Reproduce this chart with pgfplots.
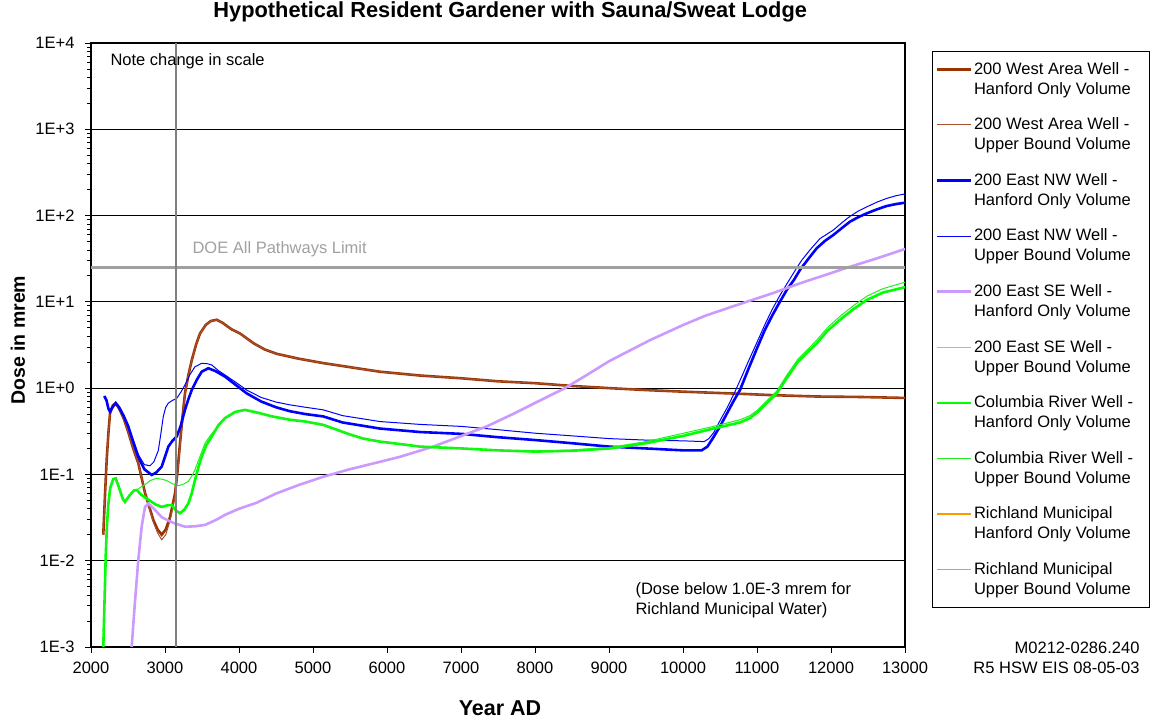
\documentclass[border=0pt]{standalone}
\usepackage{pgfplots}
\pgfplotsset{compat=1.18}
\usepackage{fontspec}
\setmainfont{Liberation Sans}
\definecolor{cbrown}{HTML}{993300}
\definecolor{cbrownt}{HTML}{A85030}
\definecolor{cblue}{HTML}{0000FF}
\definecolor{cpurple}{HTML}{CC99FF}
\definecolor{cgreen}{HTML}{00FF00}
\definecolor{cgreent}{HTML}{22EE22}
\definecolor{corange}{HTML}{FF9900}
\definecolor{cdoe}{HTML}{A0A0A0}
\definecolor{cvert}{HTML}{808080}
\newcommand{\fs}{\fontsize{16.5}{20}\selectfont}
\newcommand{\legtxt}[2]{\raisebox{7.6pt}{\parbox[b]{170pt}{\rule{0pt}{19pt}#1\\#2\rule[-7.6pt]{0pt}{7.6pt}}}}

\pgfplotstableread{
x y
2166 0.02
2190 0.06
2212 0.147
2235 0.30
2257 0.51
2295 0.63
2334 0.67
2380 0.58
2440 0.45
2504 0.31
2570 0.20
2639 0.135
2730 0.061
2842 0.0297
2900 0.023
2955 0.020
3010 0.023
3068 0.032
3135 0.06
3170 0.11
3203 0.23
3235 0.45
3270 0.87
3315 1.4
3361 2.1
3420 3.2
3473 4.3
3550 5.4
3620 6.0
3699 6.2
3780 5.7
3900 4.8
4014 4.3
4200 3.3
4350 2.8
4509 2.5
4800 2.2
5139 1.95
5500 1.75
5905 1.55
6446 1.4
7009 1.30
7500 1.2
8009 1.14
8500 1.06
9004 1.00
9500 0.95
10004 0.91
10770 0.86
11200 0.83
11800 0.80
12400 0.79
13000 0.77
}\wHO

\pgfplotstableread{
x y
2166 0.02
2190 0.06
2212 0.147
2235 0.30
2257 0.51
2295 0.63
2334 0.67
2380 0.58
2440 0.45
2504 0.31
2570 0.20
2639 0.135
2730 0.061
2842 0.028
2900 0.021
2955 0.0175
3010 0.020
3068 0.029
3135 0.055
3170 0.10
3203 0.21
3235 0.43
3270 0.85
3315 1.4
3361 2.1
3420 3.2
3473 4.3
3550 5.4
3620 6.0
3699 6.2
3780 5.7
3900 4.8
4014 4.3
4200 3.3
4350 2.8
4509 2.5
4800 2.2
5139 1.95
5500 1.75
5905 1.55
6446 1.4
7009 1.30
7500 1.2
8009 1.14
8500 1.06
9004 1.00
9500 0.95
10004 0.91
10770 0.86
11200 0.83
11800 0.80
12400 0.79
13000 0.77
}\wUB

\pgfplotstableread{
x y
2180 0.81
2210 0.72
2235 0.58
2257 0.535
2290 0.60
2334 0.67
2380 0.60
2440 0.48
2504 0.36
2570 0.24
2639 0.16
2720 0.115
2820 0.0986
2880 0.105
2955 0.123
3000 0.16
3045 0.21
3100 0.245
3158 0.274
3210 0.36
3270 0.56
3315 0.74
3361 0.95
3430 1.25
3496 1.55
3585 1.70
3680 1.58
3811 1.36
3950 1.1
4104 0.87
4300 0.70
4500 0.60
4689 0.54
4900 0.50
5139 0.47
5400 0.40
5905 0.34
6446 0.31
7009 0.295
7500 0.27
8009 0.25
8500 0.23
9004 0.21
9500 0.20
10004 0.19
10251 0.19
10330 0.21
10400 0.26
10500 0.36
10600 0.52
10680 0.70
10770 0.95
10900 1.8
11000 2.9
11100 4.6
11200 6.8
11300 9.7
11401 13.7
11500 18
11581 23.5
11700 32
11807 41.8
11920 51
12032 59.6
12150 72
12257 85
12370 96
12482 106
12620 118
12752 129
12880 136
13000 141
}\nHO

\pgfplotstableread{
x y
2180 0.81
2210 0.72
2235 0.58
2257 0.535
2290 0.60
2334 0.67
2380 0.60
2440 0.48
2504 0.36
2570 0.25
2639 0.17
2720 0.13
2797 0.126
2850 0.14
2910 0.19
2945 0.30
2977 0.47
3010 0.60
3045 0.67
3100 0.72
3158 0.76
3215 0.90
3270 1.09
3340 1.45
3405 1.77
3496 1.94
3570 1.92
3631 1.86
3720 1.60
3811 1.42
3950 1.18
4104 0.95
4300 0.78
4500 0.69
4689 0.64
4900 0.60
5139 0.56
5400 0.48
5905 0.41
6446 0.38
7009 0.36
7500 0.33
8009 0.30
8500 0.28
9004 0.26
9500 0.25
10004 0.245
10286 0.24
10350 0.26
10420 0.31
10500 0.42
10600 0.60
10700 0.90
10800 1.4
10900 2.2
11000 3.4
11100 5.3
11200 8.0
11300 11.5
11400 16
11491 21.4
11600 30
11716 40
11850 54
12032 68
12150 83
12257 98
12370 113
12482 126
12620 143
12752 158
12880 170
13000 178
}\nUB

\pgfplotstableread{
x y
2550 0.001
2590 0.003
2639 0.0102
2685 0.025
2730 0.042
2775 0.046
2850 0.040
2955 0.032
3050 0.029
3135 0.027
3270 0.0248
3400 0.025
3541 0.026
3700 0.030
3811 0.034
4000 0.040
4239 0.047
4500 0.060
4800 0.075
5139 0.094
5500 0.115
5905 0.14
6176 0.16
6625 0.21
7009 0.28
7347 0.36
7700 0.50
8009 0.68
8405 1.0
8700 1.42
9000 2.05
9554 3.6
10004 5.4
10300 6.9
10680 8.9
11200 12.5
11600 16.6
12257 25.5
12600 31.5
13000 41
}\sHO

\pgfplotstableread{
x y
2166 0.001
2185 0.004
2200 0.012
2215 0.025
2234 0.045
2260 0.07
2300 0.088
2334 0.090
2380 0.07
2430 0.052
2459 0.048
2520 0.057
2580 0.065
2617 0.066
2680 0.058
2775 0.051
2870 0.045
2955 0.042
3040 0.044
3090 0.044
3150 0.038
3203 0.0355
3260 0.039
3315 0.046
3360 0.06
3405 0.086
3450 0.12
3496 0.16
3560 0.22
3631 0.274
3720 0.37
3811 0.45
3950 0.53
4081 0.56
4250 0.52
4450 0.47
4689 0.43
4900 0.41
5139 0.375
5320 0.33
5500 0.29
5680 0.26
5905 0.24
6176 0.225
6446 0.21
7009 0.20
7500 0.19
8009 0.184
8500 0.188
9004 0.20
9500 0.23
10004 0.28
10410 0.34
10770 0.40
10905 0.45
11000 0.52
11100 0.63
11266 0.87
11400 1.3
11550 2.0
11700 2.7
11807 3.3
11950 4.6
12122 6.2
12300 8.2
12482 10.5
12700 12.8
13000 14.8
}\cHO

\pgfplotstableread{
x y
2166 0.001
2185 0.004
2200 0.012
2215 0.025
2234 0.045
2260 0.07
2300 0.088
2334 0.090
2380 0.07
2430 0.052
2459 0.048
2520 0.057
2580 0.065
2617 0.066
2680 0.072
2730 0.076
2800 0.085
2887 0.090
2960 0.088
3022 0.085
3100 0.078
3180 0.074
3250 0.077
3315 0.083
3360 0.095
3405 0.113
3470 0.16
3541 0.23
3610 0.28
3676 0.33
3750 0.40
3811 0.45
3950 0.53
4081 0.56
4250 0.52
4450 0.47
4689 0.43
4900 0.41
5139 0.375
5320 0.33
5500 0.29
5680 0.26
5905 0.24
6176 0.225
6446 0.21
7009 0.20
7500 0.19
8009 0.186
8500 0.192
9004 0.205
9500 0.24
10004 0.30
10410 0.36
10770 0.43
10905 0.48
11000 0.55
11100 0.67
11266 0.92
11400 1.4
11550 2.15
11700 2.9
11807 3.6
11950 5.0
12122 6.8
12300 9.0
12482 11.6
12700 14.2
13000 16.9
}\cUB

\begin{document}
\begin{tikzpicture}[x=1pt,y=1pt]
\path[use as bounding box] (-91,-72) rectangle (1061,647);
\begin{axis}[
  at={(0,0)}, anchor=south west,
  scale only axis, width=814pt, height=604pt,
  xmin=2000, xmax=13000,
  ymode=log, ymin=1e-3, ymax=1e4,
  xtick={2000,3000,...,13000},
  scaled x ticks=false,
  ytick={1e-3,1e-2,1e-1,1,10,100,1000,10000},
  yticklabels={1E-3,1E-2,1E-1,1E+0,1E+1,1E+2,1E+3,1E+4},
  minor ytick={2e-3,3e-3,4e-3,5e-3,6e-3,7e-3,8e-3,9e-3,
    2e-2,3e-2,4e-2,5e-2,6e-2,7e-2,8e-2,9e-2,
    2e-1,3e-1,4e-1,5e-1,6e-1,7e-1,8e-1,9e-1,
    2,3,4,5,6,7,8,9,20,30,40,50,60,70,80,90,
    200,300,400,500,600,700,800,900,
    2000,3000,4000,5000,6000,7000,8000,9000},
  ymajorgrids,
  major grid style={black, line width=1.2pt},
  axis line style={black, line width=1.2pt},
  tick style={black, line width=0.8pt},
  tick align=outside,
  major tick length=6pt, minor tick length=4pt,
  xtick pos=bottom, ytick pos=left,
  /pgf/number format/assume math mode=true,
  xticklabel style={/pgf/number format/fixed, /pgf/number format/1000 sep={}, yshift=-5pt},
  yticklabel style={xshift=-7pt},
  tick label style={font=\fs},
  title={Hypothetical Resident Gardener with Sauna/Sweat Lodge},
  title style={at={(axis description cs:0.515,1.041)}, anchor=center, yshift=0pt, font=\fontsize{21.8}{26}\selectfont\bfseries},
  xlabel={Year AD},
  xlabel style={at={(axis description cs:0.5025,-0.101)}, anchor=center, font=\fontsize{21.5}{26}\selectfont\bfseries},
  ylabel={Dose in mrem},
  ylabel style={at={(axis description cs:-0.0897,0.508)}, anchor=center, font=\fontsize{19.5}{24}\selectfont\bfseries},
  legend style={at={(axis description cs:1.0332,0.9868)}, anchor=north west,
    draw=black, line width=0.8pt, font=\fs,
    cells={anchor=west},
    inner xsep=3pt, inner ysep=0pt},
  legend image code/.code={\path[draw=none,fill=none] (0pt,-27.8pt) rectangle (34pt,27.8pt); \draw[#1] (0pt,9.8pt) -- (34pt,9.8pt);},
  clip=true,
]
\addplot[cbrown, line width=2.6pt] table {\wHO};
\addlegendentry{\legtxt{200 West Area Well -}{Hanford Only Volume}}
\addplot[cbrownt, line width=1pt] table {\wUB};
\addlegendentry{\legtxt{200 West Area Well -}{Upper Bound Volume}}
\addplot[cblue, line width=2.6pt] table {\nHO};
\addlegendentry{\legtxt{200 East NW Well -}{Hanford Only Volume}}
\addplot[cblue, line width=1pt] table {\nUB};
\addlegendentry{\legtxt{200 East NW Well -}{Upper Bound Volume}}
\addplot[cpurple, line width=2.6pt] table {\sHO};
\addlegendentry{\legtxt{200 East SE Well -}{Hanford Only Volume}}
\addplot[cpurple, line width=1pt] table {\sHO};
\addlegendentry{\legtxt{200 East SE Well -}{Upper Bound Volume}}
\addplot[cgreen, line width=2.6pt] table {\cHO};
\addlegendentry{\legtxt{Columbia River Well -}{Hanford Only Volume}}
\addplot[cgreent, line width=1pt] table {\cUB};
\addlegendentry{\legtxt{Columbia River Well -}{Upper Bound Volume}}
\addlegendimage{draw=corange, line width=2.6pt}
\addlegendentry{\legtxt{Richland Municipal}{Hanford Only Volume}}
\addlegendimage{draw=corange, line width=1.2pt}
\addlegendentry{\legtxt{Richland Municipal}{Upper Bound Volume}}
\addplot[cdoe, line width=2.5pt, forget plot] coordinates {(2000,25) (13000,25)};
\addplot[cvert, line width=1.2pt, forget plot] coordinates {(3150,1e-3) (3150,1e4)};
\node[anchor=base west, text=cdoe, font=\fs] at (axis cs:3324,25) [yshift=14pt] {DOE All Pathways Limit};
\end{axis}
\node[anchor=base west, font=\fs] at (16,581) {Note change in scale};
\node[anchor=base west, font=\fs] at (541,52) {(Dose below 1.0E-3 mrem for};
\node[anchor=base west, font=\fs] at (541,32) {Richland Municipal Water)};
\node[anchor=base east, font=\fs] at (1052,-7) {M0212-0286.240};
\node[anchor=base east, font=\fs] at (1052,-27) {R5 HSW EIS 08-05-03};
\end{tikzpicture}
\end{document}
